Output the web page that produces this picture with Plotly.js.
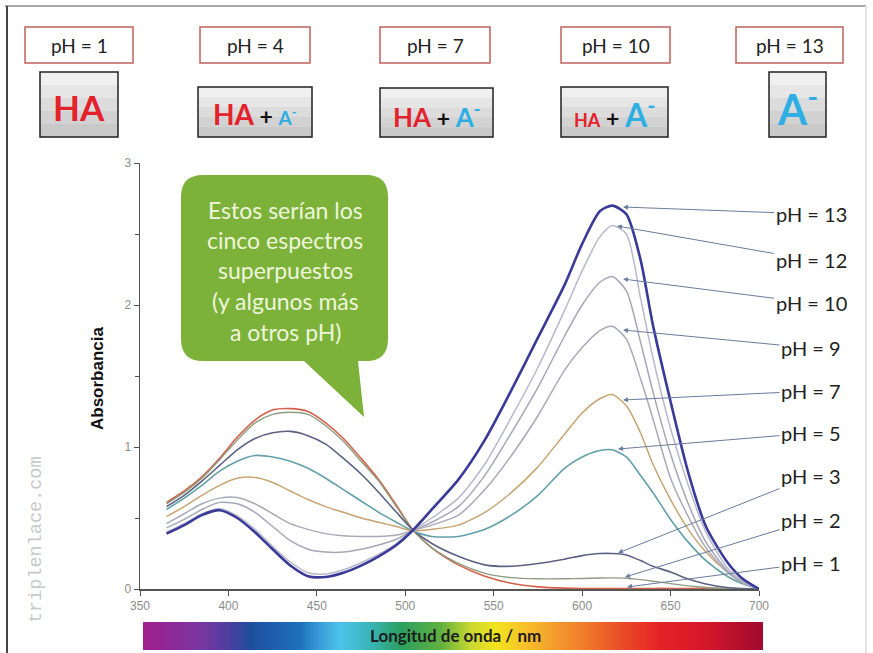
<!DOCTYPE html>
<html><head><meta charset="utf-8">
<script src="https://cdn.plot.ly/plotly-3.0.1.min.js"></script>
<style>html,body{margin:0;padding:0;background:#fff;}#chart{width:873px;height:653px;}</style>
</head><body><div id="chart"></div>
<script>
// ---------- data ----------
const wavelength = [365,375,385,395,405,415,425,435,445,455,465,475,485,495,504,515,530,545,560,575,590,600,610,617,625,633,640,650,660,670,682,690,700];
const abs_pH1  = [0.61,0.69,0.79,0.92,1.07,1.19,1.26,1.27,1.25,1.17,1.06,0.92,0.77,0.59,0.42,0.29,0.17,0.09,0.04,0.015,0.006,0.004,0.004,0.004,0.004,0.004,0.004,0.004,0.003,0.003,0.002,0.001,0];
const abs_pH2  = [0.60,0.68,0.78,0.91,1.05,1.17,1.23,1.245,1.23,1.15,1.04,0.90,0.76,0.58,0.42,0.29,0.18,0.11,0.08,0.072,0.072,0.074,0.077,0.078,0.076,0.066,0.055,0.038,0.022,0.011,0.004,0.001,0];
const abs_pH3  = [0.58,0.66,0.76,0.87,0.98,1.06,1.10,1.11,1.08,1.02,0.92,0.81,0.68,0.54,0.42,0.32,0.23,0.17,0.16,0.18,0.21,0.235,0.25,0.25,0.24,0.20,0.16,0.12,0.07,0.035,0.01,0.003,0];
const abs_pH5  = [0.56,0.64,0.73,0.83,0.90,0.94,0.93,0.90,0.85,0.78,0.70,0.62,0.54,0.47,0.41,0.37,0.37,0.42,0.52,0.66,0.85,0.93,0.975,0.98,0.93,0.80,0.68,0.49,0.33,0.20,0.09,0.04,0];
const abs_pH7  = [0.51,0.58,0.66,0.73,0.78,0.785,0.75,0.69,0.63,0.58,0.54,0.50,0.47,0.44,0.41,0.42,0.45,0.54,0.68,0.86,1.09,1.24,1.34,1.37,1.29,1.10,0.88,0.63,0.42,0.26,0.12,0.05,0];
const abs_pH9  = [0.46,0.53,0.60,0.64,0.645,0.60,0.53,0.46,0.42,0.39,0.375,0.37,0.37,0.38,0.41,0.45,0.52,0.70,0.94,1.22,1.54,1.70,1.82,1.85,1.76,1.48,1.20,0.78,0.51,0.29,0.12,0.05,0];
const abs_pH10 = [0.43,0.49,0.56,0.61,0.60,0.54,0.44,0.34,0.28,0.26,0.26,0.28,0.31,0.35,0.41,0.47,0.58,0.80,1.10,1.42,1.78,2.00,2.16,2.20,2.10,1.74,1.39,0.95,0.60,0.33,0.13,0.05,0];
const abs_pH12 = [0.40,0.46,0.53,0.565,0.515,0.42,0.30,0.19,0.115,0.105,0.135,0.185,0.245,0.32,0.41,0.50,0.64,0.88,1.21,1.56,1.96,2.24,2.48,2.56,2.50,2.05,1.63,1.13,0.73,0.40,0.15,0.06,0];
const abs_pH13 = [0.39,0.45,0.52,0.555,0.50,0.40,0.28,0.165,0.09,0.085,0.115,0.165,0.23,0.31,0.41,0.56,0.77,1.05,1.40,1.77,2.14,2.43,2.66,2.70,2.64,2.32,1.86,1.32,0.82,0.44,0.19,0.08,0];

const seriesNames = ["pH = 1","pH = 2","pH = 3","pH = 5","pH = 7","pH = 9","pH = 10","pH = 12","pH = 13"];
const seriesValues = [abs_pH1,abs_pH2,abs_pH3,abs_pH5,abs_pH7,abs_pH9,abs_pH10,abs_pH12,abs_pH13];

const xTicks = [350,400,450,500,550,600,650,700];
const yTicks = [0,1,2,3];
const topLabels = ["pH = 1","pH = 4","pH = 7","pH = 10","pH = 13"];
const bubbleLines = ["Estos serían los","cinco espectros","superpuestos","(y algunos más","a otros pH)"];
const barPos = [0,1];

// ---------- styles / layout ----------
const W = 873, H = 653;
const seriesColors = ["#d4604a","#8f9c80","#5c6282","#62a0a8","#c9a473","#a9a9b9","#a6a6b8","#b8b8cc","#3a3a98"];
const seriesWidths = [1.6,1.4,1.6,1.6,1.5,1.5,1.5,1.5,2.6];
const px = x => x / W;
const py = y => 1 - y / H;

const traces = seriesValues.map((v,i)=>({
  type:'scatter', mode:'lines', x:wavelength, y:v, name:seriesNames[i],
  line:{color:seriesColors[i], width:seriesWidths[i], shape:'spline', smoothing:0.7},
  hoverinfo:'skip', xaxis:'x', yaxis:'y', showlegend:false
}));

traces.unshift({
  type:'heatmap', z:[barPos], x:barPos, y:[0], xaxis:'x2', yaxis:'y2',
  zsmooth:'best', showscale:false, hoverinfo:'skip', zmin:0, zmax:1,
  colorscale:[
    [0,'#a01e8e'],[0.092,'#7a36a0'],[0.14,'#4a3ea0'],[0.173,'#1e4e9e'],[0.253,'#1f70bc'],
    [0.285,'#3a9ed8'],[0.318,'#4cc4ea'],[0.366,'#38b4b8'],[0.415,'#2aa060'],[0.479,'#60b040'],
    [0.527,'#c8d830'],[0.568,'#f2e41e'],[0.616,'#f8c02a'],[0.665,'#f49a2c'],[0.713,'#f07a2a'],
    [0.769,'#ea4e28'],[0.834,'#e42226'],[0.898,'#d8182a'],[1,'#a00a30']]
});

const shapes = [];
const annotations = [];
const rect = (x0,y0,x1,y1,line,fill,w)=>shapes.push({type:'rect',xref:'paper',yref:'paper',
  x0:px(x0),y0:py(y1),x1:px(x1),y1:py(y0),line:{color:line,width:w===undefined?1.5:w},fillcolor:fill,layer:'below'});
const seg = (x0,y0,x1,y1,c,w)=>shapes.push({type:'line',xref:'paper',yref:'paper',
  x0:px(x0),y0:py(y0),x1:px(x1),y1:py(y1),line:{color:c,width:w}});
const note = (x,y,text,font,extra)=>annotations.push(Object.assign({xref:'paper',yref:'paper',x:px(x),y:py(y),
  text:text,showarrow:false,xanchor:'center',yanchor:'middle',font:font},extra||{}));

// frame
seg(5,6,866,6,'#a8a8a8',2);
seg(7,6,7,653,'#444',2);
seg(866,6,866,653,'#e4e4e4',2);

// top pH boxes
const topBoxes = [[25,27,133,63],[200,27,310,63],[380,27,490,63],[561,27,670,63],[736,27,843,63]];
topBoxes.forEach((b,i)=>{
  rect(b[0],b[1],b[2],b[3],'#c0625c','#ffffff',1.5);
  note((b[0]+b[2])/2,(b[1]+b[3])/2,topLabels[i],{family:'Lato, sans-serif',size:19,color:'#222'});
});

// species boxes (vertical gray gradient in bands)
const spBoxes = [[40,72,118,137],[198,87,312,137],[380,88,493,137],[561,87,668,137],[769,72,826,137]];
const bandFills = ['#f0f0f0','#e6e6e6','#dcdcdc','#d2d2d2','#c9c9c9'];
const RED='#e3222c', BLUE='#2eaee2';
const spTexts = [
  `<b><span style="color:${RED};font-size:35px">HA</span></b>`,
  `<b><span style="color:${RED};font-size:28px">HA</span><span style="color:#111;font-size:23px"> + </span><span style="color:${BLUE};font-size:19px">A<sup>-</sup></span></b>`,
  `<b><span style="color:${RED};font-size:26px">HA</span><span style="color:#111;font-size:23px"> + </span><span style="color:${BLUE};font-size:26px">A<sup>-</sup></span></b>`,
  `<b><span style="color:${RED};font-size:18px">HA</span><span style="color:#111;font-size:23px"> + </span><span style="color:${BLUE};font-size:32px">A<sup>-</sup></span></b>`,
  `<b><span style="color:${BLUE};font-size:42px">A<sup>-</sup></span></b>`
];
const spCenterY = [107,114,115,113,106];
spBoxes.forEach((b,i)=>{
  const h=(b[3]-b[1])/bandFills.length;
  bandFills.forEach((f,k)=>shapes.push({type:'rect',xref:'paper',yref:'paper',x0:px(b[0]),x1:px(b[2]),
    y0:py(b[1]+h*(k+1)+0.5),y1:py(b[1]+h*k),line:{width:0},fillcolor:f,layer:'below'}));
  rect(b[0],b[1],b[2],b[3],'#222','rgba(0,0,0,0)',1.5);
  note((b[0]+b[2])/2,spCenterY[i],spTexts[i],{family:'Lato, sans-serif',size:23,color:'#111'});
});

// speech bubble
(function(){
  const L=181,R=388,T=175,B=361,r=22;
  const P=(x,y)=>`${px(x)},${py(y)}`;
  const path = `M${P(L+r,T)} L${P(R-r,T)} Q${P(R,T)} ${P(R,T+r)} L${P(R,B-r)} Q${P(R,B)} ${P(R-r,B)} L${P(358,B)} L${P(364,417)} L${P(304,B)} L${P(L+r,B)} Q${P(L,B)} ${P(L,B-r)} L${P(L,T+r)} Q${P(L,T)} ${P(L+r,T)} Z`;
  shapes.push({type:'path',xref:'paper',yref:'paper',path:path,fillcolor:'#7cb23a',line:{width:0},layer:'above'});
  const ys=[210,240,270,301,332];
  bubbleLines.forEach((t,i)=>note(285,ys[i],t,{family:'Lato, sans-serif',size:23,color:'#eef6dc'}));
})();

// series labels with arrows
const labelY = [214,260,303,348,391,433,476,520,563];
const labelText = ["pH = 13","pH = 12","pH = 10","pH = 9","pH = 7","pH = 5","pH = 3","pH = 2","pH = 1"];
const headPx = [[623,207],[617,226],[623,279],[623,330],[623,400],[618,449],[618,553],[625,577],[627,587]];
labelText.forEach((t,i)=>{
  const hx=headPx[i][0], hy=headPx[i][1];
  annotations.push({xref:'paper',yref:'paper',x:px(hx),y:py(hy),ax:811-hx,ay:labelY[i]-hy,text:t,
    showarrow:true,arrowhead:2,arrowsize:1,arrowwidth:1,arrowcolor:'#6a7c9e',
    font:{family:'Lato, sans-serif',size:20,color:'#222'}});
});

// axis titles and watermark
note(97,378,'<b>Absorbancia</b>',{family:'Liberation Sans, Arial, sans-serif',size:17,color:'#111'},{textangle:-90});
note(455,635,'<b>Longitud de onda / nm</b>',{family:'Lato, sans-serif',size:17,color:'#1d1d1d'});
note(36,540,'triplenlace.com',{family:'Liberation Mono, DejaVu Sans Mono, monospace',size:18.5,color:'#c8c8c8'},{textangle:-90});

const layout = {
  width:W, height:H, margin:{l:0,r:0,t:0,b:0}, paper_bgcolor:'#fff', plot_bgcolor:'rgba(0,0,0,0)',
  showlegend:false,
  xaxis:{domain:[px(140),px(759)], range:[350,700], tickvals:xTicks, ticks:'outside', ticklen:5, tickcolor:'#555',
    showline:true, linecolor:'#555', linewidth:1.5, showgrid:false, zeroline:false,
    tickfont:{family:'Liberation Sans, Arial, sans-serif',size:12,color:'#8c8c8c'}, fixedrange:true},
  yaxis:{domain:[py(589),py(163)], range:[0,3], tickvals:yTicks, ticks:'outside', ticklen:5, tickcolor:'#555',
    minor:{tickvals:[0.5,1.5,2.5],ticks:'outside',ticklen:4,tickcolor:'#555'},
    showline:true, linecolor:'#555', linewidth:1.5, showgrid:false, zeroline:false,
    tickfont:{family:'Liberation Sans, Arial, sans-serif',size:12,color:'#8c8c8c'}, fixedrange:true},
  xaxis2:{domain:[px(143),px(763)], range:[0,1], visible:false, anchor:'y2', fixedrange:true},
  yaxis2:{domain:[py(650),py(622)], range:[-0.5,0.5], visible:false, anchor:'x2', fixedrange:true},
  shapes:shapes, annotations:annotations
};

Plotly.newPlot('chart', traces, layout, {displayModeBar:false, staticPlot:true});
</script></body></html>
